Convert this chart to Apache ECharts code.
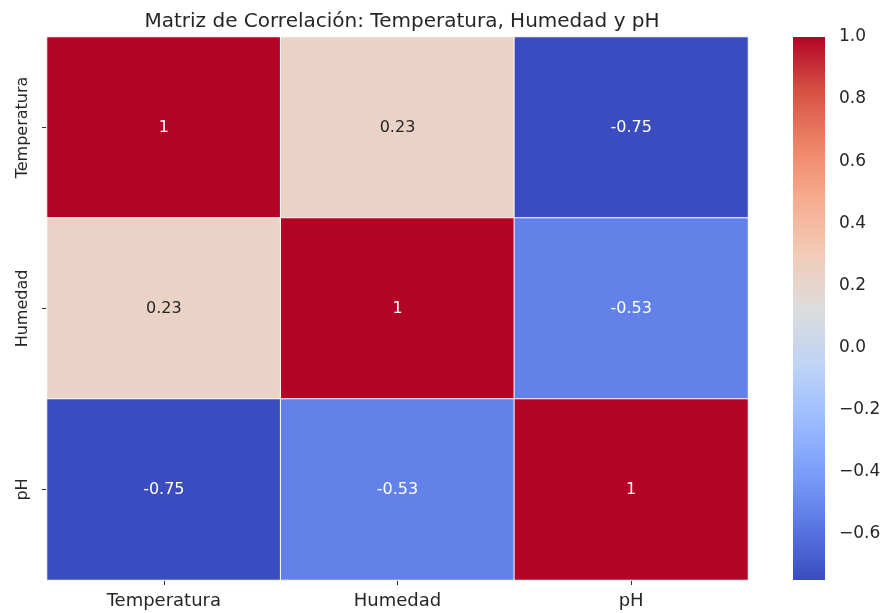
<!DOCTYPE html>
<html>
<head>
<meta charset="utf-8">
<script src="https://cdn.jsdelivr.net/npm/echarts@6/dist/echarts.min.js"></script>
<style>
  html, body { margin: 0; padding: 0; background: #fff; }
  #chart { width: 888px; height: 613px; }
</style>
</head>
<body>
<div id="chart"></div>
<script>
const variables = ['Temperatura', 'Humedad', 'pH']
// matriz de correlacion, fila por fila
const corrTemperatura = [1, 0.23, -0.75]
const corrHumedad = [0.23, 1, -0.53]
const corrPH = [-0.75, -0.53, 1]
const colorbarTicks = [-0.6, -0.4, -0.2, 0.0, 0.2, 0.4, 0.6, 0.8, 1.0]

// coolwarm
const coolwarm = ['#3b4cc0', '#5977e3', '#7b9ff9', '#9ebeff', '#c0d4f5', '#dddcdc',
	'#f2cbb7', '#f7ac8e', '#ee8468', '#d65244', '#b40426']

const vmin = -0.75
const vmax = 1

const rows = [corrTemperatura, corrHumedad, corrPH]
const data = []
rows.forEach((row, y) => {
	row.forEach((v, x) => {
		// texto claro sobre celdas oscuras, como seaborn
		const light = v > -0.2 && v < 0.6
		data.push({ value: [x, y, v], label: { color: light ? '#262626' : '#ffffff' } })
	})
})

// barra de color dibujada en su propio grid
const renderColorbar = (params, api) => {
	const p0 = api.coord([0, vmax])
	const p1 = api.coord([1, vmin])
	const stops = coolwarm.map((c, i) => ({ offset: 1 - i / (coolwarm.length - 1), color: c }))
	return {
		type: 'rect',
		shape: { x: p0[0], y: p0[1], width: p1[0] - p0[0], height: p1[1] - p0[1] },
		style: { fill: new echarts.graphic.LinearGradient(0, 0, 0, 1, stops) }
	}
}

const options = {
	animation: false,
	backgroundColor: '#ffffff',
	textStyle: { fontFamily: 'DejaVu Sans' },
	title: {
		text: 'Matriz de Correlación: Temperatura, Humedad y pH',
		left: 397,
		top: 7,
		textAlign: 'center',
		textStyle: { fontSize: 20, fontWeight: 'normal', color: '#262626', fontFamily: 'DejaVu Sans' }
	},
	grid: [
		{ left: 47, top: 37, width: 701, height: 543 },
		{ left: 793, top: 37, width: 32, height: 543 }
	],
	xAxis: [
		{
			type: 'category',
			data: variables,
			gridIndex: 0,
			axisLine: { show: false },
			axisTick: { show: true, alignWithLabel: true, length: 5, lineStyle: { color: '#333' } },
			axisLabel: { fontSize: 18, color: '#262626', margin: 12 },
			splitLine: { show: false }
		},
		{ type: 'value', gridIndex: 1, show: false, min: 0, max: 1 }
	],
	yAxis: [
		{
			type: 'category',
			data: variables,
			inverse: true,
			gridIndex: 0,
			axisLine: { show: false },
			axisTick: { show: true, alignWithLabel: true, length: 5, lineStyle: { color: '#333' } },
			axisLabel: { fontSize: 16, color: '#262626', rotate: 90, margin: 16 },
			splitLine: { show: false }
		},
		{
			type: 'value',
			gridIndex: 1,
			position: 'right',
			min: vmin,
			max: vmax,
			axisLine: { show: false },
			splitLine: { show: false },
			axisTick: { show: true, length: 5, customValues: colorbarTicks, lineStyle: { color: '#333' } },
			axisLabel: {
				fontSize: 17,
				color: '#262626',
				margin: 14,
				customValues: colorbarTicks,
				formatter: v => (v < 0 ? '\u2212' : '') + Math.abs(v).toFixed(1)
			}
		}
	],
	visualMap: {
		type: 'continuous',
		show: false,
		seriesIndex: 0,
		min: vmin,
		max: vmax,
		inRange: { color: coolwarm }
	},
	series: [
		{
			type: 'heatmap',
			xAxisIndex: 0,
			yAxisIndex: 0,
			data: data,
			itemStyle: { borderColor: '#ffffff', borderWidth: 1 },
			label: {
				show: true,
				fontSize: 16,
				fontFamily: 'DejaVu Sans',
				formatter: p => String(p.value[2])
			},
			emphasis: { disabled: true }
		},
		{
			type: 'custom',
			xAxisIndex: 1,
			yAxisIndex: 1,
			renderItem: renderColorbar,
			data: [[0, 0]],
			silent: true
		}
	]
}

echarts.init(document.getElementById('chart')).setOption(options)
</script>
</body>
</html>
